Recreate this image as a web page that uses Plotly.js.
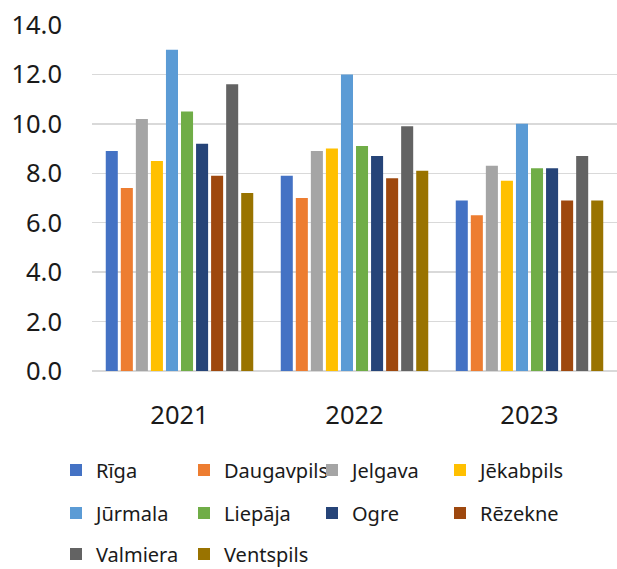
<!DOCTYPE html>
<html>
<head>
<meta charset="utf-8">
<script src="https://cdn.plot.ly/plotly-3.0.1.min.js"></script>
<style>html,body{margin:0;padding:0;background:#fff;}#chart{width:617px;height:569px;}</style>
</head>
<body>
<div id="chart"></div>
<script>
var years = ["2021", "2022", "2023"];
var cities = ["Rīga", "Daugavpils", "Jelgava", "Jēkabpils", "Jūrmala", "Liepāja", "Ogre", "Rēzekne", "Valmiera", "Ventspils"];
var riga = [8.9, 7.9, 6.9];
var daugavpils = [7.4, 7.0, 6.3];
var jelgava = [10.2, 8.9, 8.3];
var jekabpils = [8.5, 9.0, 7.7];
var jurmala = [13.0, 12.0, 10.0];
var liepaja = [10.5, 9.1, 8.2];
var ogre = [9.2, 8.7, 8.2];
var rezekne = [7.9, 7.8, 6.9];
var valmiera = [11.6, 9.9, 8.7];
var ventspils = [7.2, 8.1, 6.9];
var yTicks = [0, 2, 4, 6, 8, 10, 12, 14];

var series = [riga, daugavpils, jelgava, jekabpils, jurmala, liepaja, ogre, rezekne, valmiera, ventspils];
var colors = ["#4472C4", "#ED7D31", "#A5A5A5", "#FFC000", "#5B9BD5", "#70AD47", "#264478", "#9E480E", "#636363", "#997300"];
var legendFor = ["legend", "legend", "legend", "legend", "legend2", "legend2", "legend2", "legend2", "legend3", "legend3"];

var traces = cities.map(function (c, i) {
  return {
    type: "bar",
    name: c,
    x: years,
    y: series[i],
    marker: {color: colors[i]},
    legend: legendFor[i],
    hoverinfo: "skip"
  };
});

var font = "'Noto Sans', 'Open Sans', sans-serif";
var ML = 92, MR = 0, MT = 25, MB = 198;
var PW = 617 - ML - MR, PH = 569 - MT - MB;
function px(x) { return (x - ML) / PW; }
function py(y) { return (569 - MB - y) / PH; }
function leg(y) {
  return {
    orientation: "h",
    x: px(56), xanchor: "left",
    y: py(y), yanchor: "middle",
    entrywidth: 83, entrywidthmode: "pixels",
    font: {family: font, size: 20, color: "#1a1a1a"},
    bgcolor: "rgba(0,0,0,0)",
    traceorder: "normal",
    itemclick: false
  };
}

var layout = {
  width: 617, height: 569,
  margin: {l: ML, r: MR, t: MT, b: MB, pad: 0, autoexpand: false},
  paper_bgcolor: "#fff", plot_bgcolor: "#fff",
  font: {family: font, color: "#1a1a1a"},
  barmode: "group",
  bargap: 0.14,
  bargroupgap: 0.2,
  showlegend: true,
  xaxis: {
    type: "category",
    showgrid: false, showline: false, zeroline: false,
    ticks: "",
    tickfont: {family: font, size: 25.5, color: "#1a1a1a"},
    ticklabelstandoff: 26
  },
  yaxis: {
    range: [0, 14],
    tickvals: yTicks,
    ticktext: yTicks.map(function (v) { return v.toFixed(1); }),
    showgrid: true, gridcolor: "#D9D9D9", gridwidth: 1.3,
    zeroline: true, zerolinecolor: "#D9D9D9", zerolinewidth: 1.3,
    showline: false, ticks: "",
    tickfont: {family: font, size: 25.5, color: "#1a1a1a"},
    ticklabelstandoff: 29
  },
  legend: leg(470),
  legend2: leg(513),
  legend3: leg(554)
};

Plotly.newPlot("chart", traces, layout, {displayModeBar: false, staticPlot: true});
</script>
</body>
</html>
